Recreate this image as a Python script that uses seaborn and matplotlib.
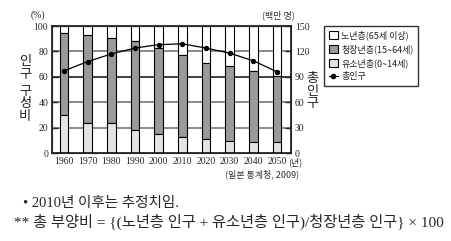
import matplotlib
matplotlib.use("Agg")
import matplotlib.pyplot as plt
import seaborn as sns
import numpy as np
import pandas as pd
from matplotlib.patches import Patch
from matplotlib.lines import Line2D

years = ["1960", "1970", "1980", "1990", "2000", "2010", "2020", "2030", "2040", "2050"]
youth = [30.2, 24.0, 23.5, 18.2, 14.6, 13.0, 10.8, 9.7, 8.6, 8.6]
working = [64.1, 68.9, 67.4, 69.7, 68.1, 63.9, 60.0, 58.5, 55.8, 51.8]
elderly = [5.7, 7.1, 9.1, 12.1, 17.3, 23.1, 29.2, 31.8, 35.6, 39.6]
population = [97, 108, 117, 124, 128, 129, 124, 118, 109, 96]

legend_labels = ["노년층(65세 이상)", "청장년층(15~64세)", "유소년층(0~14세)", "총인구"]

sns.set_style("white")
KR = ["Noto Sans CJK KR", "DejaVu Sans"]
SERIF = ["Liberation Serif", "Noto Sans CJK KR"]
plt.rcParams["font.family"] = KR

df = pd.DataFrame({"year": years, "youth": youth, "working": working,
                   "elderly": elderly, "pop": population})
df["yw"] = df["youth"] + df["working"]

fig = plt.figure(figsize=(4.51, 2.41), dpi=100)
ax = fig.add_axes([0.116, 0.365, 0.529, 0.527])

for v, c in zip([20, 40, 60, 80], ["#777777", "#777777", "#222222", "#777777"]):
    ax.axhline(v, color=c, lw=1.2, zorder=0)

bw = 0.36
sns.barplot(data=df, x="year", y="elderly", bottom=df["yw"], color="white",
            edgecolor="black", linewidth=0.8, width=bw, ax=ax, zorder=2, saturation=1)
sns.barplot(data=df, x="year", y="working", bottom=df["youth"], color="#9a9a9a",
            edgecolor="black", linewidth=0.8, width=bw, ax=ax, zorder=2, saturation=1)
sns.barplot(data=df, x="year", y="youth", color="#e4e4e4",
            edgecolor="black", linewidth=0.8, width=bw, ax=ax, zorder=2, saturation=1)

ax.set_xlim(-0.49, 9.59)
ax.set_ylim(0, 100)
ax.set_yticks([0, 20, 40, 60, 80, 100])
ax.set_xlabel("")
ax.set_ylabel("")
ax.tick_params(axis="y", direction="in", length=4, width=1, labelsize=7, pad=3)
ax.tick_params(axis="x", length=0, labelsize=7, pad=3)
for lab in ax.get_xticklabels() + ax.get_yticklabels():
    lab.set_family(SERIF)
for s in ax.spines.values():
    s.set_linewidth(1.1)
    s.set_color("black")

ax2 = ax.twinx()
sns.pointplot(data=df, x="year", y="pop", color="black", ax=ax2,
              markersize=3.2, linewidth=0.9)
ax2.set_ylim(0, 150)
ax2.set_yticks([0, 30, 60, 90, 120, 150])
ax2.set_ylabel("")
ax2.tick_params(axis="y", direction="in", length=4, width=1, labelsize=7, pad=3)
for lab in ax2.get_yticklabels():
    lab.set_family(SERIF)
ax2.set_xlim(-0.49, 9.59)

# axis titles
fig.text(38 / 451, 1 - 15 / 241, "(%)", fontsize=7, ha="center", va="center", family=SERIF)
fig.text(278 / 451, 1 - 15 / 241, "(백만 명)", fontsize=6.5, ha="center", va="center", color="#333333")
fig.text(25 / 451, 1 - 68 / 241, "인\n구", fontsize=9.5, ha="center", va="center", linespacing=0.95, color="#222222")
fig.text(25 / 451, 1 - 104 / 241, "구\n성\n비", fontsize=9.5, ha="center", va="center", linespacing=0.95, color="#222222")
fig.text(312 / 451, 1 - 91 / 241, "총\n인\n구", fontsize=9.5, ha="center", va="center", linespacing=0.95, color="#222222")
fig.text(288 / 451, 1 - 162 / 241, "(년)", fontsize=6.5, ha="left", va="center")
fig.text(262 / 451, 1 - 174 / 241, "(일본 통계청, 2009)", fontsize=6.5, ha="center", va="center", color="#333333")

handles = [Patch(facecolor="white", edgecolor="black", lw=0.8),
           Patch(facecolor="#9a9a9a", edgecolor="black", lw=0.8),
           Patch(facecolor="#e4e4e4", edgecolor="black", lw=0.8),
           Line2D([0], [0], color="black", lw=0.9, marker="o", markersize=3)]
leg = fig.legend(handles, legend_labels, loc="upper left",
                 bbox_to_anchor=(324 / 451, 1 - 26 / 241), fontsize=6.5,
                 frameon=True, fancybox=False, edgecolor="black",
                 handlelength=1.0, handleheight=1.0, handletextpad=0.4,
                 borderpad=0.5, labelspacing=0.45, borderaxespad=0)
leg.get_frame().set_linewidth(1.0)
for t in leg.get_texts():
    t.set_color("#222222")

# notes
fig.text(23 / 451, 1 - 203 / 241, "• 2010년 이후는 추정치임.", fontsize=10.5, ha="left", va="center", family=SERIF)
fig.text(14 / 451, 1 - 222 / 241, "** 총 부양비 = {(노년층 인구 + 유소년층 인구)/청장년층 인구} × 100",
         fontsize=11, ha="left", va="center", family=SERIF)

fig.savefig("out.png", dpi=100)
